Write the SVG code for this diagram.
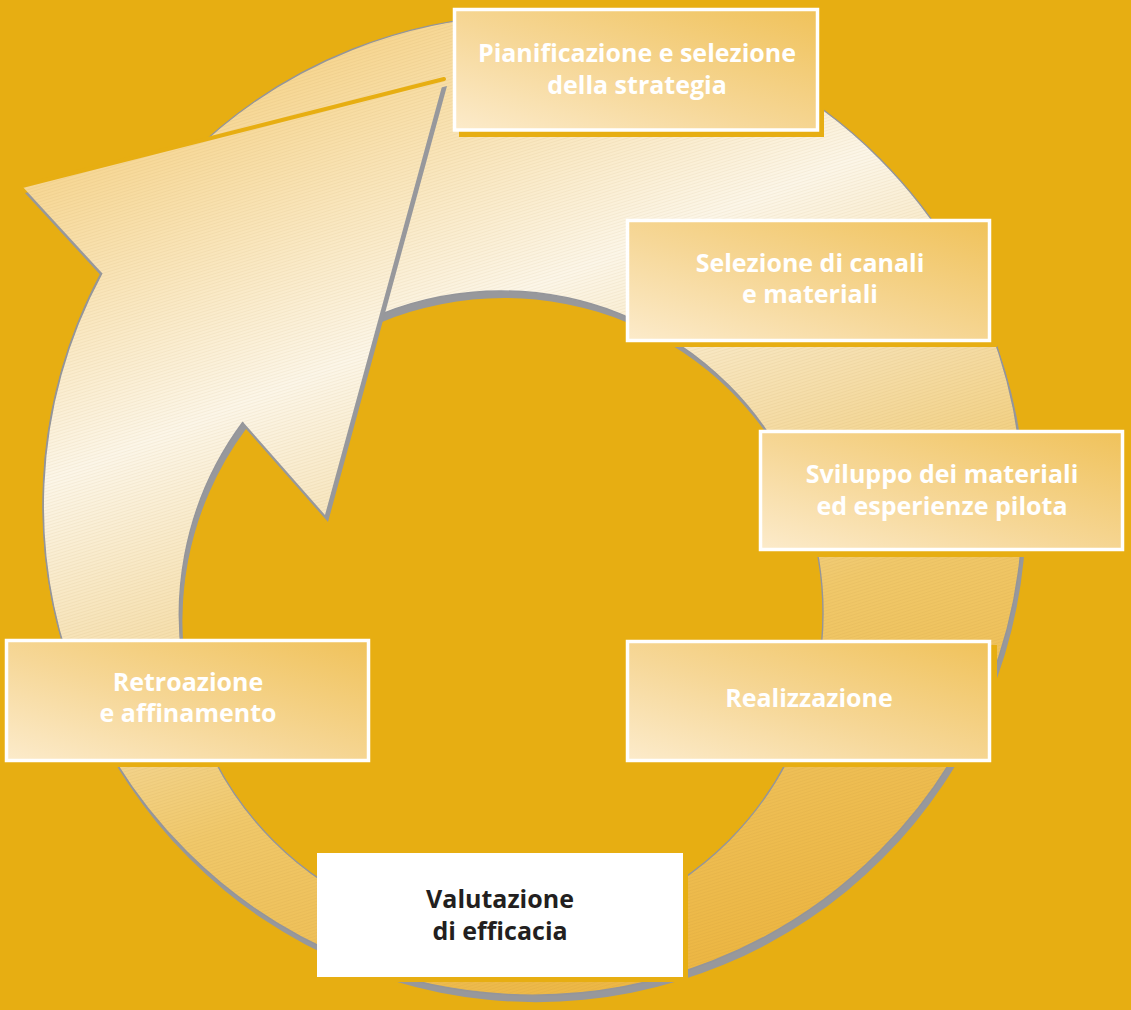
<svg xmlns="http://www.w3.org/2000/svg" xmlns:xlink="http://www.w3.org/1999/xlink" width="1131" height="1010" viewBox="0 0 1131 1010">
  <style>
    .box { stroke: #FFFFFF; stroke-width: 3.5; fill: url(#boxGrad); }
    .shadowBox { fill: #E7AE12; }
    .lbl { font-family: "Open Sans", "Noto Sans", "Liberation Sans", sans-serif; font-weight: bold; font-size: 25px; fill: #FFFFFF; text-anchor: middle; }
    .lblDark { fill: #231F20; }
    .edge { fill: none; stroke: #94959A; stroke-width: 1.4; }
  </style>
  <defs>
    <linearGradient id="ringGrad" gradientUnits="userSpaceOnUse" x1="300" y1="50" x2="680" y2="1000">
      <stop offset="0" stop-color="#F6D48C"/>
      <stop offset="0.3" stop-color="#FCF6E8"/>
      <stop offset="0.5" stop-color="#F5DDA8"/>
      <stop offset="0.68" stop-color="#F0C86A"/>
      <stop offset="1" stop-color="#ECB540"/>
    </linearGradient>
    <linearGradient id="boxGrad" x1="0" y1="1" x2="1" y2="0">
      <stop offset="0" stop-color="#FCEBCB"/>
      <stop offset="0.45" stop-color="#F6D797"/>
      <stop offset="1" stop-color="#F0C25A"/>
    </linearGradient>
    <pattern id="hatch" patternUnits="userSpaceOnUse" width="4" height="3" patternTransform="rotate(-17)">
      <rect x="0" y="0" width="4" height="1" fill="#A07030" fill-opacity="0.07"/>
    </pattern>
    <path id="ringShape" fill-rule="evenodd" d="M 43,505 A 490 490 0 1 0 1023,505 A 490 490 0 1 0 43,505 Z M 179,613 A 322 322 0 1 0 823,613 A 322 322 0 1 0 179,613 Z"/>
    <path id="arrowShape" d="M 444,79 L 22,186 L 102,273 A 490 490 0 0 0 83.5,700 L 191,700 A 322 322 0 0 1 243,422 L 325,515 Z"/>
  </defs>

  <rect x="0" y="0" width="1131" height="1010" fill="#E7AE12"/>

  <g id="connectors">
    <use xlink:href="#ringShape" href="#ringShape" transform="translate(3,7)" fill="#97989C" fill-rule="evenodd"/>
    <use xlink:href="#ringShape" href="#ringShape" fill="url(#ringGrad)" fill-rule="evenodd"/>
    <use xlink:href="#ringShape" href="#ringShape" fill="url(#hatch)" fill-rule="evenodd"/>
    <use xlink:href="#ringShape" href="#ringShape" class="edge"/>
    <use xlink:href="#arrowShape" href="#arrowShape" transform="translate(3,7)" fill="#97989C"/>
    <use xlink:href="#arrowShape" href="#arrowShape" fill="url(#ringGrad)"/>
    <use xlink:href="#arrowShape" href="#arrowShape" fill="url(#hatch)"/>
    <path d="M 102,273 A 490 490 0 0 0 83.5,700 M 191,700 A 322 322 0 0 1 243,422" class="edge"/>
    <line x1="22" y1="186" x2="444" y2="79" stroke="#E7AE12" stroke-width="4" stroke-linecap="round"/>
  </g>

  <g id="node-pianificazione">
    <rect class="shadowBox" x="459" y="14" width="365" height="123"/>
    <rect class="box" x="454.5" y="9.5" width="363" height="120.5"/>
    <text class="lbl" x="637" y="62">Pianificazione e selezione</text>
    <text class="lbl" x="637" y="94">della strategia</text>
  </g>

  <g id="node-selezione">
    <rect class="shadowBox" x="632" y="225" width="365" height="122"/>
    <rect class="box" x="627.5" y="220.5" width="362" height="120"/>
    <text class="lbl" x="810" y="272">Selezione di canali</text>
    <text class="lbl" x="810" y="303">e materiali</text>
  </g>

  <g id="node-sviluppo">
    <rect class="shadowBox" x="765" y="436" width="365" height="121"/>
    <rect class="box" x="760.5" y="431.5" width="362" height="118"/>
    <text class="lbl" x="942" y="483">Sviluppo dei materiali</text>
    <text class="lbl" x="942" y="515">ed esperienze pilota</text>
  </g>

  <g id="node-realizzazione">
    <rect class="shadowBox" x="632" y="645" width="365" height="122"/>
    <rect class="box" x="627.5" y="641.5" width="362" height="119"/>
    <text class="lbl" x="809" y="707">Realizzazione</text>
  </g>

  <g id="node-retroazione">
    <rect class="shadowBox" x="11" y="644" width="365" height="123"/>
    <rect class="box" x="6.5" y="640.5" width="362" height="120"/>
    <text class="lbl" x="188" y="691">Retroazione</text>
    <text class="lbl" x="188" y="722">e affinamento</text>
  </g>

  <g id="node-valutazione">
    <rect class="shadowBox" x="322" y="858" width="366" height="124"/>
    <rect x="317" y="853" width="366" height="124" fill="#FFFFFF"/>
    <text class="lbl lblDark" x="500" y="908">Valutazione</text>
    <text class="lbl lblDark" x="500" y="940">di efficacia</text>
  </g>
</svg>
